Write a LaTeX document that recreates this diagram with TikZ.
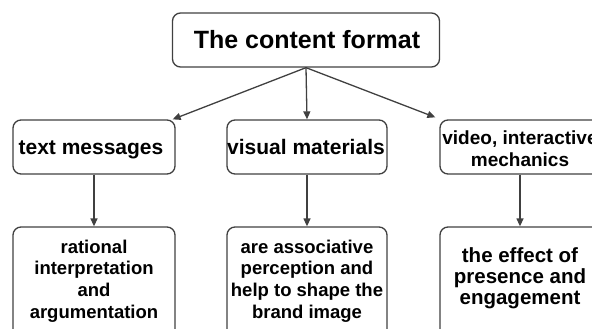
\documentclass[tikz,border=0pt]{standalone}
\usepackage{fontspec}
\setmainfont{Liberation Sans}
\usetikzlibrary{arrows.meta}
\begin{document}
\begin{tikzpicture}[x=1pt,y=-1pt,
  box/.style={draw=black!75, line width=1.3pt, rounded corners=8pt, inner sep=0pt},
  btext/.style={font=\bfseries, align=center, inner sep=0pt},
  conn/.style={draw=black!75, line width=1.3pt, -{Triangle[length=8pt,width=7pt]}}]
\useasboundingbox (0,0) rectangle (592,329);
\clip (0,0) rectangle (592,329);
% top
\node[box, minimum width=267pt, minimum height=54pt] (top) at (306,40) {};
\node[btext, font=\bfseries\fontsize{25}{29}\selectfont] (topt) at (307,40) {The content format};
% level 2
\node[box, minimum width=162pt, minimum height=54pt] (m1) at (94,147) {};
\node[box, minimum width=160pt, minimum height=54pt] (m2) at (307,147) {};
\node[box, minimum width=160pt, minimum height=54pt] (m3) at (520,147) {};
\node[btext, anchor=base, font=\bfseries\fontsize{21}{23}\selectfont] (m1t) at (91,154) {text messages};
\node[btext, anchor=base, font=\bfseries\fontsize{21}{23}\selectfont] (m2t) at (306,154) {visual materials};
\node[btext, font=\bfseries\fontsize{19}{22}\selectfont] (m3t) at (520,149) {video, interactive\\mechanics};
% level 3
\node[box, minimum width=162pt, minimum height=110pt] (b1) at (94,282) {};
\node[box, minimum width=160pt, minimum height=110pt] (b2) at (307,282) {};
\node[box, minimum width=160pt, minimum height=110pt] (b3) at (520,282) {};
\node[btext, font=\bfseries\fontsize{18.5}{21.7}\selectfont] (b1t) at (94,281) {rational\\interpretation\\and\\argumentation};
\node[btext, font=\bfseries\fontsize{18.5}{21.7}\selectfont] (b2t) at (307,281) {are associative\\perception and\\help to shape the\\brand image};
\node[btext, font=\bfseries\fontsize{20.5}{21}\selectfont] (b3t) at (520,278) {the effect of\\presence and\\engagement};
% connectors
\draw[conn] (top.south) -- ([xshift=-3pt]m1.north east);
\draw[conn] (top.south) -- (m2.north);
\draw[conn] (top.south) -- ([xshift=-4pt,yshift=2pt]m3.north west);
\draw[conn] (m1.south) -- (b1.north);
\draw[conn] (m2.south) -- (b2.north);
\draw[conn] (m3.south) -- (b3.north);
\end{tikzpicture}
\end{document}
